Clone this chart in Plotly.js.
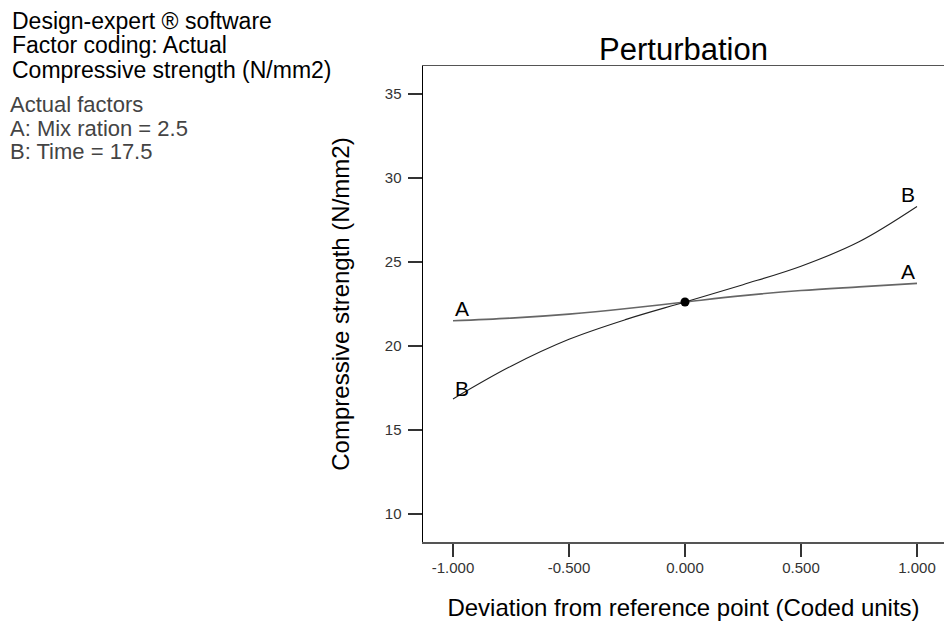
<!DOCTYPE html>
<html>
<head>
<meta charset="utf-8">
<script src="https://cdn.plot.ly/plotly-3.0.1.min.js"></script>
<style>
  html, body { margin: 0; padding: 0; background: #fff; }
  #chart { width: 944px; height: 621px; }
</style>
</head>
<body>
<div id="chart"></div>
<script>
// Perturbation plot: response vs. deviation from the reference point (coded units)
const xCoded = [-1, -0.75, -0.5, -0.25, 0, 0.25, 0.5, 0.75, 1];
const factorA = [21.5, 21.66, 21.9, 22.23, 22.62, 23.0, 23.3, 23.52, 23.73];
const factorB = [16.85, 18.8, 20.4, 21.6, 22.62, 23.65, 24.75, 26.2, 28.3];
const refPoint = { x: 0, y: 22.62 };
const xTicks = [-1, -0.5, 0, 0.5, 1];
const yTicks = [10, 15, 20, 25, 30, 35];
const infoLines = [
  'Design-expert \u00AE software',
  'Factor coding: Actual',
  'Compressive strength (N/mm2)'
];
const factorLines = [
  'Actual factors',
  'A: Mix ration = 2.5',
  'B: Time = 17.5'
];

const FONT = 'Liberation Sans, Arial, Helvetica, sans-serif';

// plot-area geometry in pixels, used to place the side text block
const M = { l: 423, r: 0, t: 66, b: 79 };
const W = 944, H = 621;
const pw = W - M.l - M.r, ph = H - M.t - M.b;
const px2paperX = p => (p - M.l) / pw;
const px2paperY = p => (H - M.b - p) / ph;

const traces = [
  {
    x: xCoded, y: factorA, mode: 'lines', type: 'scatter', name: 'A',
    line: { color: '#666', width: 1.6, shape: 'spline', smoothing: 1 },
    hoverinfo: 'x+y'
  },
  {
    x: xCoded, y: factorB, mode: 'lines', type: 'scatter', name: 'B',
    line: { color: '#222', width: 1.1, shape: 'spline', smoothing: 1 },
    hoverinfo: 'x+y'
  },
  {
    x: [refPoint.x], y: [refPoint.y], mode: 'markers', type: 'scatter',
    marker: { color: '#000', size: 9 }, hoverinfo: 'x+y'
  }
];

const last = xCoded.length - 1;
const curveLabels = [
  { x: xCoded[0], y: factorA[0], text: 'A', xanchor: 'left', yshift: 12 },
  { x: xCoded[0], y: factorB[0], text: 'B', xanchor: 'left', yshift: 10 },
  { x: xCoded[last], y: factorA[last], text: 'A', xanchor: 'right', yshift: 12 },
  { x: xCoded[last], y: factorB[last], text: 'B', xanchor: 'right', yshift: 12 }
].map(a => Object.assign({
  xref: 'x', yref: 'y', showarrow: false, yanchor: 'middle',
  font: { family: FONT, size: 21, color: '#000' }
}, a));

const infoY = [21, 45, 70];
const factorY = [104, 128, 151];
const sideText = [];
infoLines.forEach((t, i) => sideText.push({
  xref: 'paper', yref: 'paper', x: px2paperX(10), y: px2paperY(infoY[i]),
  xanchor: 'left', yanchor: 'middle', showarrow: false, text: t,
  font: { family: FONT, size: 23, color: '#000' }
}));
factorLines.forEach((t, i) => sideText.push({
  xref: 'paper', yref: 'paper', x: px2paperX(8), y: px2paperY(factorY[i]),
  xanchor: 'left', yanchor: 'middle', showarrow: false, text: t,
  font: { family: FONT, size: 22, color: '#444' }
}));

const layout = {
  width: W, height: H,
  margin: M,
  paper_bgcolor: '#fff', plot_bgcolor: '#fff',
  showlegend: false,
  title: {
    text: 'Perturbation', x: 0.5, xref: 'paper', xanchor: 'center',
    y: 1 - 49 / H, yref: 'container', yanchor: 'middle',
    font: { family: FONT, size: 31, color: '#000' }
  },
  xaxis: {
    range: [-1 - 30 / 232, 1 + 27 / 232],
    tickvals: xTicks, ticktext: xTicks.map(v => v.toFixed(3)),
    ticks: 'outside', ticklen: 13, tickwidth: 1.2, tickcolor: '#333',
    showline: true, linecolor: '#555', linewidth: 1.5, mirror: true,
    showgrid: false, zeroline: false,
    tickfont: { family: FONT, size: 15, color: '#333' },
    ticklabelstandoff: -2,
    title: { text: 'Deviation from reference point (Coded units)', standoff: 24,
             font: { family: FONT, size: 24, color: '#000' } }
  },
  yaxis: {
    range: [10 - 28 / 16.8, 35 + 28 / 16.8],
    tickvals: yTicks,
    ticks: 'outside', ticklen: 14, tickwidth: 1.2, tickcolor: '#333',
    showline: true, linecolor: '#000', linewidth: 1.5,
    showgrid: false, zeroline: false,
    tickfont: { family: FONT, size: 15, color: '#333' },
    ticklabelstandoff: 3,
    title: { text: 'Compressive strength (N/mm2)', standoff: 28,
             font: { family: FONT, size: 24, color: '#000' } }
  },
  annotations: curveLabels.concat(sideText)
};

Plotly.newPlot('chart', traces, layout, { displayModeBar: false, staticPlot: true });
</script>
</body>
</html>
